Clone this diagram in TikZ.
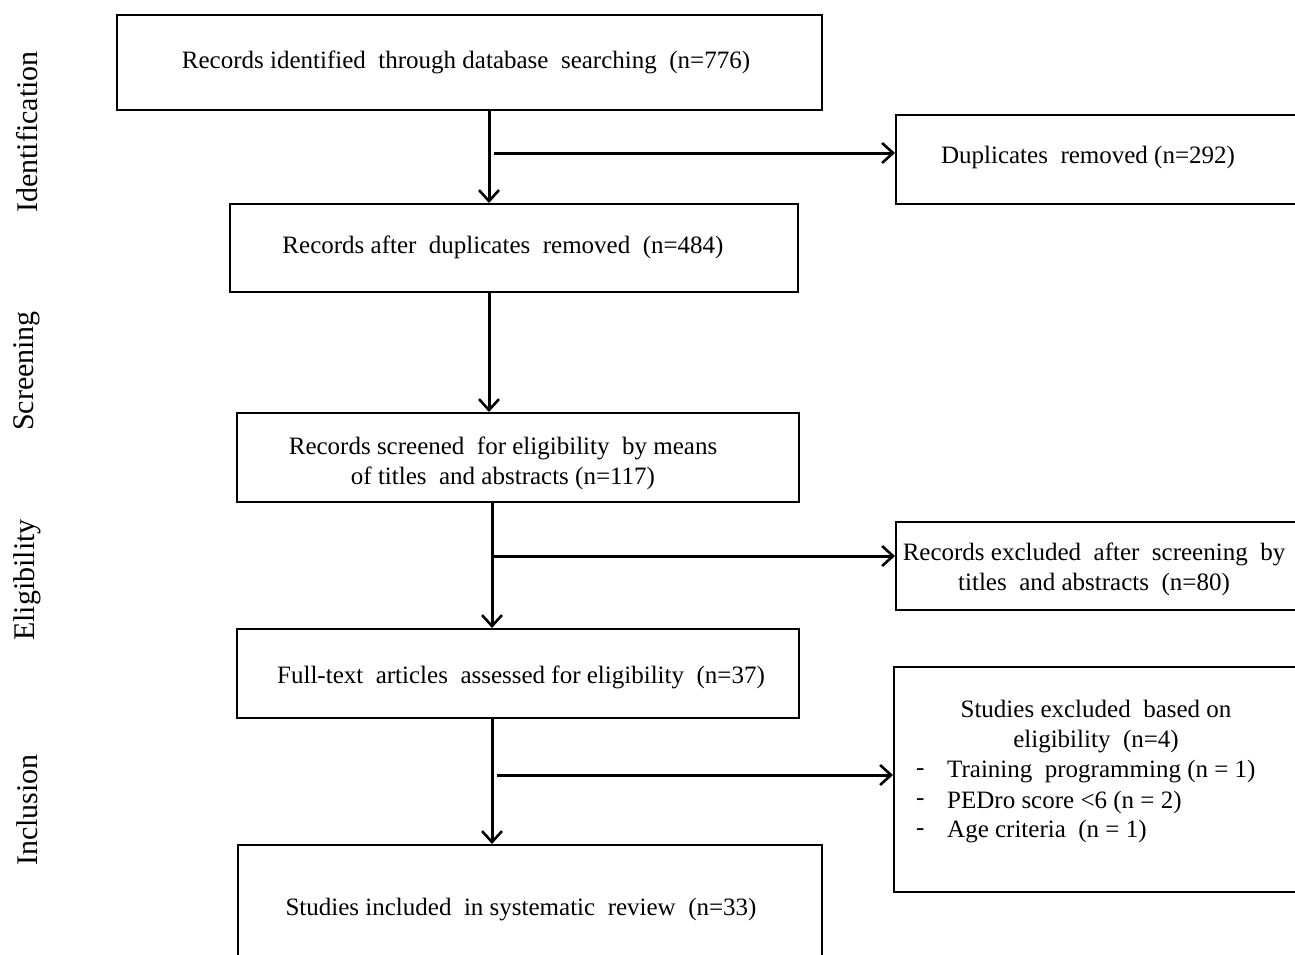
\documentclass[tikz,border=0pt]{standalone}
\usepackage{fontspec}
\setmainfont{Liberation Serif}
\usetikzlibrary{arrows.meta,positioning}
\begin{document}
\begin{tikzpicture}[x=1pt,y=-1pt,
  every node/.style={font=\fontsize{25}{30}\selectfont, inner sep=0pt},
  box/.style={draw, line width=2pt, rectangle, align=center},
  txt/.style={align=center},
  arr/.style={line width=3pt, -{Straight Barb[length=11pt,width=20pt,line width=2.6pt]}},
  side/.style={rotate=90, font=\fontsize{30}{34}\selectfont}]
\useasboundingbox (0,0) rectangle (1295,954);
\clip (0,0) rectangle (1295,954);
\fill[white] (0,0) rectangle (1295,954);

% side labels
\node[side] (lid) at (27,132) {Identification};
\node[side] (lsc) at (27,371) {Screening};
\node[side] (lel) at (27,580) {Eligibility};
\node[side] (lin) at (27,810) {Inclusion};

% main column boxes
\node[box, minimum width=705pt, minimum height=95pt] (b1) at (469.5,62.5) {};
\node[txt] (t1) at (466,62) {Records identified\ \ through database\ \ searching\ \ (n=776)};
\node[box, minimum width=568pt, minimum height=88pt] (b2) at (514,248) {};
\node[txt] (t2) at (503,247) {Records after\ \ duplicates\ \ removed\ \ (n=484)};
\node[box, minimum width=562pt, minimum height=89pt] (b3) at (518,457.5) {};
\node[txt] (t3) at (503,463) {Records screened\ \ for eligibility\ \ by means\\ of titles\ \ and abstracts\ (n=117)};
\node[box, minimum width=562pt, minimum height=89pt] (b4) at (518,673.5) {};
\node[txt] (t4) at (521,677) {Full-text\ \ articles\ \ assessed for eligibility\ \ (n=37)};
\node[box, minimum width=584pt, minimum height=140pt] (b5) at (530,915) {};
\node[txt] (t5) at (521,910) {Studies included\ \ in systematic\ \ review\ \ (n=33)};

% right column boxes (cut by right edge)
\node[box, minimum width=440pt, minimum height=89pt, anchor=west] (r1) at (895,159.5) {};
\node[txt] (rt1) at (1088,157) {Duplicates\ \ removed\ (n=292)};
\node[box, minimum width=440pt, minimum height=88pt, anchor=west] (r2) at (895,566) {};
\node[txt] (rt2) at (1094,569.5) {Records excluded\ \ after\ \ screening\ \ by\\ titles\ \ and abstracts\ \ (n=80)};
\node[box, minimum width=440pt, minimum height=225pt, anchor=west] (r3) at (893,779.5) {};
\node[txt] (rt3) at (1096,727) {Studies excluded\ \ based on\\ eligibility\ \ (n=4)};
\node[anchor=west] (d1) at (916,772) {-};
\node[anchor=west] (d2) at (916,802) {-};
\node[anchor=west] (d3) at (916,832) {-};
\node[anchor=west] (i1) at (947,772) {Training\ \ programming\ (n = 1)};
\node[anchor=west] (i2) at (947,802) {PEDro score <6 (n = 2)};
\node[anchor=west] (i3) at (947,832) {Age\ criteria\ \ (n = 1)};

% connector columns
\coordinate (c1) at (489,0);
\coordinate (c2) at (492,0);
\coordinate (h1) at (494,153);
\coordinate (h2) at (494,556);
\coordinate (h3) at (497,775);

\draw[arr] (b1.south -| c1) -- (b2.north -| c1);
\draw[arr] (h1) -- (h1 -| r1.west);
\draw[arr] (b2.south -| c1) -- (b3.north -| c1);
\draw[arr] (b3.south -| c2) -- (b4.north -| c2);
\draw[arr] (h2) -- (h2 -| r2.west);
\draw[arr] (b4.south -| c2) -- (b5.north -| c2);
\draw[arr] (h3) -- (h3 -| r3.west);
\end{tikzpicture}
\end{document}
